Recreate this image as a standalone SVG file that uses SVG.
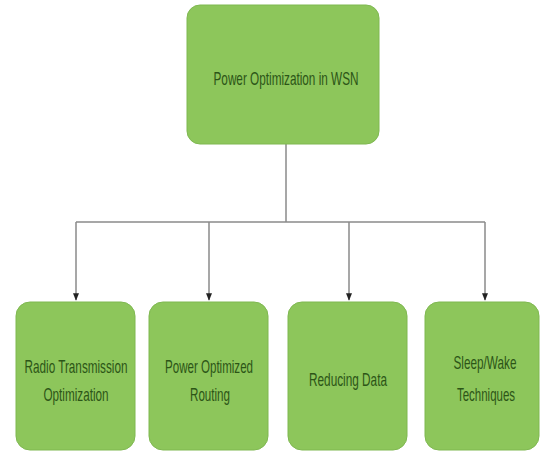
<svg xmlns="http://www.w3.org/2000/svg" width="540" height="453" viewBox="0 0 540 453">
<style>
.box{fill:#8dc65b;stroke:#7fb851;stroke-width:1}
.t{font-family:"Liberation Sans",Arial,sans-serif;fill:#2c5517;text-anchor:middle;font-size:12px}
.c{fill:none;stroke:#8a8a8a;stroke-width:1.5}
</style>
<defs>
<marker id="arr" viewBox="0 0 10 10" refX="9" refY="5" markerWidth="5" markerHeight="5" orient="auto">
<path d="M0,1 L10,5 L0,9 z" fill="#222"/>
</marker>
</defs>
<rect width="540" height="453" fill="#fff"/>
<g id="connectors">
<path class="c" d="M286,143 V222"/>
<path class="c" d="M76,222 H485"/>
<path class="c" d="M76,222 V300" marker-end="url(#arr)"/>
<path class="c" d="M209,222 V300" marker-end="url(#arr)"/>
<path class="c" d="M349,222 V300" marker-end="url(#arr)"/>
<path class="c" d="M485,222 V300" marker-end="url(#arr)"/>
</g>
<g id="root">
<rect class="box" x="187" y="5" width="192" height="139" rx="13"/>
<text class="t" transform="translate(286,85) scale(1,1.5)" textLength="145" lengthAdjust="spacingAndGlyphs">Power Optimization in WSN</text>
</g>
<g id="n1">
<rect class="box" x="16" y="302" width="119" height="148" rx="14"/>
<text class="t" transform="translate(76,373) scale(1,1.5)" textLength="103" lengthAdjust="spacingAndGlyphs">Radio Transmission</text>
<text class="t" transform="translate(76,401) scale(1,1.5)" textLength="65" lengthAdjust="spacingAndGlyphs">Optimization</text>
</g>
<g id="n2">
<rect class="box" x="149" y="302" width="119" height="148" rx="14"/>
<text class="t" transform="translate(209,373) scale(1,1.5)" textLength="88" lengthAdjust="spacingAndGlyphs">Power Optimized</text>
<text class="t" transform="translate(210,401) scale(1,1.5)" textLength="40" lengthAdjust="spacingAndGlyphs">Routing</text>
</g>
<g id="n3">
<rect class="box" x="288" y="302" width="119" height="148" rx="14"/>
<text class="t" transform="translate(348,386) scale(1,1.5)" textLength="78" lengthAdjust="spacingAndGlyphs">Reducing Data</text>
</g>
<g id="n4">
<rect class="box" x="425" y="302" width="114" height="148" rx="14"/>
<text class="t" transform="translate(485,369) scale(1,1.5)" textLength="63" lengthAdjust="spacingAndGlyphs">Sleep/Wake</text>
<text class="t" transform="translate(486,401) scale(1,1.5)" textLength="58" lengthAdjust="spacingAndGlyphs">Techniques</text>
</g>
</svg>
